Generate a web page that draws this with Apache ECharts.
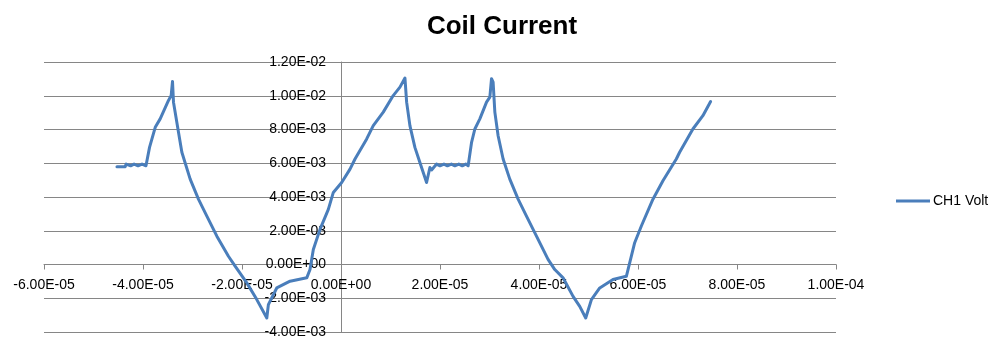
<!DOCTYPE html>
<html>
<head>
<meta charset="utf-8">
<script src="https://cdn.jsdelivr.net/npm/echarts@6/dist/echarts.min.js"></script>
<style>
html,body{margin:0;padding:0;background:#fff;}
#chart{width:1004px;height:350px;}
</style>
</head>
<body>
<div id="chart"></div>
<script>
// Time (s)
var timeValues = [
  -45.26e-6, -43.6e-6, -43.4e-6, -42.5e-6, -41.8e-6, -41.0e-6, -40.2e-6, -39.4e-6, -39.21e-6,
  -38.68e-6, -37.53e-6, -36.53e-6, -34.85e-6, -34.31e-6, -34.04e-6, -33.84e-6, -32.83e-6,
  -32.15e-6, -30.47e-6, -28.80e-6, -27.10e-6, -25.08e-6, -22.74e-6, -21.39e-6, -19.03e-6,
  -17.01e-6, -14.99e-6, -14.67e-6, -12.98e-6, -10.29e-6, -6.92e-6, -6.26e-6, -5.59e-6,
  -4.24e-6, -2.56e-6, -1.55e-6, 0.14e-6, 1.82e-6, 2.83e-6, 5.19e-6, 6.52e-6, 8.54e-6,
  10.55e-6, 11.91e-6, 12.92e-6, 13.26e-6, 13.92e-6, 14.93e-6, 15.94e-6, 17.29e-6, 17.96e-6,
  18.3e-6, 19.31e-6, 20.0e-6, 20.8e-6, 21.5e-6, 22.3e-6, 23.0e-6, 23.8e-6, 24.5e-6, 25.2e-6,
  25.69e-6, 26.38e-6, 27.04e-6, 28.05e-6, 29.40e-6, 30.07e-6, 30.41e-6, 30.73e-6, 31.08e-6,
  31.74e-6, 32.75e-6, 34.10e-6, 35.78e-6, 37.47e-6, 39.49e-6, 41.83e-6, 43.19e-6, 44.86e-6,
  46.88e-6, 48.23e-6, 49.44e-6, 50.59e-6, 52.27e-6, 54.95e-6, 57.65e-6, 58.32e-6, 59.33e-6,
  60.68e-6, 63.02e-6, 65.04e-6, 67.74e-6, 68.41e-6, 71.09e-6, 73.11e-6, 74.67e-6
];
// CH1 Volt
var ch1Values = [
  5.80e-3, 5.80e-3, 5.95e-3, 5.85e-3, 5.95e-3, 5.85e-3, 5.95e-3, 5.85e-3, 5.85e-3,
  6.94e-3, 8.13e-3, 8.63e-3, 9.72e-3, 10.01e-3, 10.85e-3, 9.62e-3, 7.84e-3,
  6.65e-3, 5.06e-3, 3.87e-3, 2.87e-3, 1.68e-3, 0.49e-3, -0.10e-3, -1.09e-3,
  -2.08e-3, -3.17e-3, -2.38e-3, -1.39e-3, -0.99e-3, -0.79e-3, -0.30e-3, 0.89e-3,
  2.08e-3, 3.27e-3, 4.27e-3, 4.86e-3, 5.65e-3, 6.25e-3, 7.44e-3, 8.23e-3, 9.03e-3,
  10.01e-3, 10.51e-3, 11.05e-3, 9.62e-3, 8.23e-3, 6.94e-3, 6.05e-3, 4.86e-3, 5.75e-3,
  5.60e-3, 5.95e-3, 5.85e-3, 5.95e-3, 5.85e-3, 5.95e-3, 5.85e-3, 5.95e-3, 5.85e-3, 5.95e-3,
  5.85e-3, 7.24e-3, 8.03e-3, 8.63e-3, 9.62e-3, 9.92e-3, 11.01e-3, 10.81e-3, 9.03e-3,
  7.63e-3, 6.25e-3, 5.06e-3, 3.87e-3, 2.87e-3, 1.68e-3, 0.30e-3, -0.30e-3, -0.79e-3,
  -1.89e-3, -2.48e-3, -3.17e-3, -2.08e-3, -1.39e-3, -0.89e-3, -0.70e-3, 0.10e-3, 1.29e-3,
  2.28e-3, 3.87e-3, 4.96e-3, 6.25e-3, 6.65e-3, 8.03e-3, 8.82e-3, 9.66e-3
];

var xMin = -6e-5, xMax = 1e-4, xStep = 2e-5;
var yMin = -4e-3, yMax = 1.2e-2, yStep = 2e-3;

function sci(v) {
  if (Math.abs(v) < 1e-12) v = 0;
  var s = v.toExponential(2);
  var parts = s.split('e');
  var exp = parseInt(parts[1], 10);
  var sign = exp < 0 ? '-' : '+';
  var a = Math.abs(exp);
  return parts[0] + 'E' + sign + (a < 10 ? '0' + a : '' + a);
}

var seriesData = timeValues.map(function (t, i) { return [t, ch1Values[i]]; });

var chart = echarts.init(document.getElementById('chart'), null, {renderer: 'canvas'});
var gridColor = '#868686';
var gridLeft = 44, gridRight = 168, gridTop = 62, gridBottom = 18;

function buildOption(xOffset, yOffset) {
  return {
    animation: false,
    backgroundColor: '#ffffff',
    title: {
      text: 'Coil Current',
      left: 'center',
      top: 9,
      textStyle: {fontFamily: 'Liberation Sans', fontWeight: 'bold', fontSize: 26, color: '#000'}
    },
    legend: {
      left: 891,
      top: 189,
      icon: 'rect',
      itemWidth: 34,
      itemHeight: 3,
      itemGap: 4,
      textStyle: {fontFamily: 'Liberation Sans', fontSize: 14, color: '#000', padding: [0, 0, 0, -2]},
      data: ['CH1 Volt']
    },
    grid: {left: gridLeft, right: gridRight, top: gridTop, bottom: gridBottom, containLabel: false, outerBoundsMode: 'none'},
    xAxis: {
      type: 'value',
      position: 'bottom',
      offset: xOffset,
      min: xMin, max: xMax, interval: xStep,
      axisLine: {show: true, onZero: false, lineStyle: {color: gridColor, width: 1}},
      axisTick: {show: true, length: 5, inside: false, lineStyle: {color: gridColor}},
      axisLabel: {formatter: sci, margin: 14, fontFamily: 'Liberation Sans', fontSize: 14, color: '#000', showMinLabel: true, showMaxLabel: true, hideOverlap: false},
      splitLine: {show: false}
    },
    yAxis: {
      type: 'value',
      position: 'left',
      offset: yOffset,
      min: yMin, max: yMax, interval: yStep,
      axisLine: {show: true, onZero: false, lineStyle: {color: gridColor, width: 1}},
      axisTick: {show: true, length: 5, inside: false, lineStyle: {color: gridColor}},
      axisLabel: {formatter: sci, margin: 15, fontFamily: 'Liberation Sans', fontSize: 14, color: '#000', showMinLabel: true, showMaxLabel: true, hideOverlap: false},
      splitLine: {show: true, lineStyle: {color: gridColor, width: 1}}
    },
    series: [{
      name: 'CH1 Volt',
      type: 'line',
      data: seriesData,
      showSymbol: false,
      symbol: 'none',
      smooth: false,
      itemStyle: {color: '#4a7ebb'},
      lineStyle: {color: '#4a7ebb', width: 3, join: 'round', cap: 'round'}
    }]
  };
}

chart.setOption(buildOption(0, 0));
// Move both axes so they cross at the data origin (0, 0), as in the reference.
var origin = chart.convertToPixel({gridIndex: 0}, [0, 0]);
var bottomEdge = chart.getHeight() - gridBottom;
var xOff = -(bottomEdge - origin[1]);   // move x axis up to y = 0
var yOff = -(origin[0] - gridLeft);     // move y axis right to x = 0
chart.setOption(buildOption(xOff, yOff), true);
</script>
</body>
</html>
